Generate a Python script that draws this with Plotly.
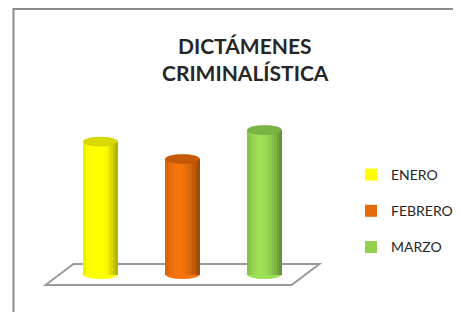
import plotly.graph_objects as go

# ---------------- data ----------------
categories = ["ENERO", "FEBRERO", "MARZO"]
values = [46, 40, 50]
base_colors = [(255, 255, 0), (228, 108, 10), (146, 208, 80)]
top_colors = ["#d9d900", "#c45a08", "#79b545"]
title_lines = ["DICTÁMENES", "CRIMINALÍSTICA"]

# ---------------- style ----------------
W, H = 453, 304        # page body has an 8px margin
BAR_W = 0.415          # cylinder width (x units)
ELL_H = 3.1            # ellipse height (y units)
N_STRIPS = 14
FONT = "Lato"
PX_X = 82.0            # px per category
PX_Y = 2.89            # px per value unit
X0_PX = 92.5           # px of first category centre
BASE_PX = 266.5        # px of value 0


def shade(rgb, t):
    # cylinder shading: highlight left of centre, darker edges
    d = abs(t - 0.38) / 0.62
    f = 1.08 - 0.42 * d ** 1.8
    return "rgb(%d,%d,%d)" % tuple(max(0, min(255, round(c * f))) for c in rgb)


fig = go.Figure()
xs = list(range(len(categories)))
sw = BAR_W / N_STRIPS

for i, (cat, val, rgb) in enumerate(zip(categories, values, base_colors)):
    for k in range(N_STRIPS):
        t = (k + 0.5) / N_STRIPS
        fig.add_trace(go.Bar(
            x=[xs[i]], y=[val], base=0,
            width=sw * 1.15, offset=-BAR_W / 2 + k * sw - 0.0005,
            marker=dict(color=shade(rgb, t), line=dict(width=0)),
            name=cat, legendgroup=cat, showlegend=False, hoverinfo="skip",
        ))
    # legend entry (no visible bar)
    fig.add_trace(go.Bar(
        x=[xs[i]], y=[0], base=0, width=0.0001,
        marker=dict(color="rgb(%d,%d,%d)" % rgb, line=dict(width=0)),
        name=cat, legendgroup=cat, showlegend=True, hoverinfo="skip",
    ))

shapes = []
# floor parallelogram
n = len(categories)
skew = 0.17
fl = -0.5
fr = (n - 1) + 0.5
depth = 3.63
shapes.append(dict(
    type="path", xref="x", yref="y", layer="below",
    path="M %f,%f L %f,%f L %f,%f L %f,%f Z" % (
        fl - skew, -depth, fl + skew, depth, fr + skew, depth, fr - skew, -depth),
    line=dict(color="#9a9a9a", width=2), fillcolor="white"))

for i, (val, rgb, tc) in enumerate(zip(values, base_colors, top_colors)):
    # bottom ellipse
    shapes.append(dict(
        type="circle", xref="x", yref="y", layer="below",
        x0=xs[i] - BAR_W / 2, x1=xs[i] + BAR_W / 2, y0=-ELL_H / 2, y1=ELL_H / 2,
        line=dict(width=0), fillcolor=shade(rgb, 0.45)))
    # top ellipse
    shapes.append(dict(
        type="circle", xref="x", yref="y", layer="above",
        x0=xs[i] - BAR_W / 2, x1=xs[i] + BAR_W / 2, y0=val - ELL_H / 2, y1=val + ELL_H / 2,
        line=dict(width=0.6, color=shade(rgb, 0.9)), fillcolor=tc))

# chart border
shapes.append(dict(type="rect", xref="paper", yref="paper",
                   x0=5.5 / W, x1=1.2, y0=-0.2, y1=1 - 1.0 / H,
                   line=dict(color="#8c8c8c", width=2), fillcolor="rgba(0,0,0,0)"))

title_font = dict(family=FONT, size=21, color="#262626")
annotations = []
for line_text, y_px in zip(title_lines, [37, 65]):
    annotations.append(dict(
        text="<b>" + line_text + "</b>",
        xref="paper", yref="paper", x=237 / W, y=1 - y_px / H,
        xanchor="center", yanchor="middle", showarrow=False, font=title_font))

fig.update_layout(
    width=W, height=H,
    margin=dict(l=0, r=0, t=0, b=0),
    paper_bgcolor="white", plot_bgcolor="rgba(0,0,0,0)",
    barmode="overlay", bargap=0,
    showlegend=True,
    xaxis=dict(visible=False, range=[-X0_PX / PX_X, (W - X0_PX) / PX_X], fixedrange=True),
    yaxis=dict(visible=False, range=[-(H - BASE_PX) / PX_Y, BASE_PX / PX_Y], fixedrange=True),
    shapes=shapes,
    annotations=annotations,
    legend=dict(
        x=343 / W, y=1 - 151 / H, xanchor="left", yanchor="top",
        font=dict(family=FONT, size=14, color="#262626"),
        tracegroupgap=15, bgcolor="rgba(0,0,0,0)", itemclick=False, itemdoubleclick=False),
)

fig.write_html("out.html")
